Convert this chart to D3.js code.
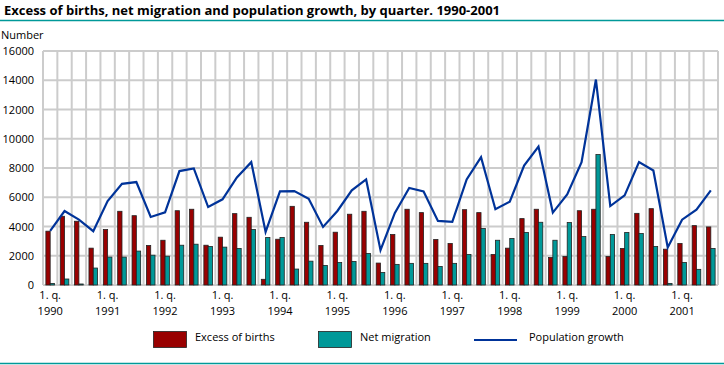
<!DOCTYPE html>
<html>
<head>
<meta charset="utf-8">
<script src="https://cdn.jsdelivr.net/npm/d3@7"></script>
<style>
  body { margin: 0; background: #fff; }
  svg { display: block; font-family: "Open Sans", sans-serif; }
</style>
</head>
<body>
<svg id="chart" width="724" height="365"></svg>
<script>
// quarters 1990 Q1 .. 2001 Q3
const years = d3.range(1990, 2002);
const quarters = [];
years.forEach(y => [1, 2, 3, 4].forEach(q => {
    if (y < 2001 || q < 4) quarters.push(y + "Q" + q);
}));

const excessOfBirths = [
    3680, 4700, 4360, 2520, 3790, 5040, 4740, 2700, 3060, 5080, 5180, 2720,
    3270, 4880, 4630, 390, 3130, 5380, 4290, 2700, 3610, 4840, 5040, 1500,
    3450, 5180, 4950, 3110, 2840, 5150, 4950, 2090, 2520, 4540, 5180, 1880,
    1950, 5080, 5180, 1950, 2500, 4900, 5220, 2450, 2840, 4060, 3970
];
const netMigration = [
    110, 410, 70, 1160, 1910, 1910, 2320, 2040, 1970, 2720, 2790, 2630,
    2590, 2500, 3790, 3250, 3250, 1090, 1630, 1340, 1540, 1610, 2160, 860,
    1410, 1480, 1480, 1270, 1480, 2090, 3860, 3060, 3180, 3590, 4290, 3060,
    4270, 3310, 8920, 3450, 3590, 3520, 2630, 110, 1540, 1070, 2500
];
const populationGrowth = [
    3700, 5060, 4470, 3680, 5740, 6920, 7040, 4650, 4970, 7790, 7970, 5330,
    5860, 7350, 8400, 3630, 6400, 6420, 5900, 3970, 5060, 6470, 7220, 2380,
    4930, 6630, 6400, 4380, 4310, 7220, 8740, 5180, 5700, 8170, 9470, 4950,
    6200, 8400, 14050, 5400, 6130, 8400, 7830, 2570, 4470, 5150, 6470
];
const yTicks = [0, 2000, 4000, 6000, 8000, 10000, 12000, 14000, 16000];
const seriesNames = ["Excess of births", "Net migration", "Population growth"];

const colors = { births: "#990000", migration: "#009999", growth: "#003399", grid: "#cccccc", rule: "#009999" };

const svg = d3.select("#chart");
const plotLeft = 43, plotRight = 718, plotTop = 51, plotBottom = 285;

const x = d3.scaleBand().domain(quarters).range([plotLeft, plotRight])
    .paddingInner(0.4).paddingOuter(0.2);
const xs = d3.scaleBand().domain(["births", "migration"]).range([0, x.bandwidth()]);
const xg = d3.scaleLinear().domain([0, quarters.length]).range([plotLeft, plotRight]);
const y = d3.scaleLinear().domain([0, 16000]).range([plotBottom, plotTop]);

// title and rules
svg.append("text")
    .attr("x", 4).attr("y", 15)
    .attr("font-size", 13).attr("font-weight", "bold")
    .text("Excess of births, net migration and population growth, by quarter. 1990-2001");
svg.append("line").attr("x1", 0).attr("x2", 724).attr("y1", 20.5).attr("y2", 20.5)
    .attr("stroke", colors.rule).attr("stroke-width", 1.5);
svg.append("line").attr("x1", 0).attr("x2", 724).attr("y1", 363.5).attr("y2", 363.5)
    .attr("stroke", colors.rule).attr("stroke-width", 1.5);

svg.append("text").attr("x", 1).attr("y", 39).attr("font-size", 11).text("Number");

// grid
const grid = svg.append("g");
grid.selectAll("line.h").data(yTicks).enter().append("line")
    .attr("x1", plotLeft).attr("x2", plotRight)
    .attr("y1", d => y(d)).attr("y2", d => y(d))
    .attr("stroke", colors.grid).attr("stroke-width", 2);
grid.selectAll("line.v").data(d3.range(quarters.length + 1)).enter().append("line")
    .attr("x1", d => xg(d)).attr("x2", d => xg(d))
    .attr("y1", plotTop).attr("y2", plotBottom)
    .attr("stroke", colors.grid).attr("stroke-width", 2);

// y axis labels
svg.append("g").selectAll("text").data(yTicks).enter().append("text")
    .attr("x", 34).attr("y", d => y(d) + 4)
    .attr("text-anchor", "end").attr("font-size", 11)
    .text(d => d);

// bars
const bars = svg.append("g");
bars.selectAll("rect.b").data(excessOfBirths).enter().append("rect")
    .attr("x", (d, i) => x(quarters[i]) + xs("births"))
    .attr("y", d => y(d))
    .attr("width", xs.bandwidth())
    .attr("height", d => y(0) - y(d))
    .attr("fill", colors.births).attr("stroke", "#222").attr("stroke-width", 0.8);
bars.selectAll("rect.m").data(netMigration).enter().append("rect")
    .attr("x", (d, i) => x(quarters[i]) + xs("migration"))
    .attr("y", d => y(d))
    .attr("width", xs.bandwidth())
    .attr("height", d => y(0) - y(d))
    .attr("fill", colors.migration).attr("stroke", "#222").attr("stroke-width", 0.8);

// line
const line = d3.line()
    .x((d, i) => x(quarters[i]) + x.bandwidth() / 2)
    .y(d => y(d));
svg.append("path").datum(populationGrowth)
    .attr("d", line).attr("fill", "none")
    .attr("stroke", colors.growth).attr("stroke-width", 2.2);

// x labels at first quarters
const xl = svg.append("g").selectAll("g").data(years).enter().append("g")
    .attr("transform", d => "translate(" + (x(d + "Q1") + x.bandwidth() / 2) + ",0)");
xl.append("text").attr("y", 299).attr("text-anchor", "middle").attr("font-size", 11).text("1. q.");
xl.append("text").attr("y", 315).attr("text-anchor", "middle").attr("font-size", 11).text(d => d);

// legend
const legend = svg.append("g").attr("font-size", 11);
legend.append("rect").attr("x", 153.5).attr("y", 331.5).attr("width", 33).attr("height", 16)
    .attr("fill", colors.births).attr("stroke", "#222").attr("stroke-width", 0.8);
legend.append("text").attr("x", 195).attr("y", 341).text(seriesNames[0]);
legend.append("rect").attr("x", 318.5).attr("y", 331.5).attr("width", 33).attr("height", 16)
    .attr("fill", colors.migration).attr("stroke", "#222").attr("stroke-width", 0.8);
legend.append("text").attr("x", 360).attr("y", 341).text(seriesNames[1]);
legend.append("line").attr("x1", 474).attr("x2", 517).attr("y1", 340).attr("y2", 340)
    .attr("stroke", colors.growth).attr("stroke-width", 2.2);
legend.append("text").attr("x", 529).attr("y", 341).text(seriesNames[2]);
</script>
</body>
</html>
